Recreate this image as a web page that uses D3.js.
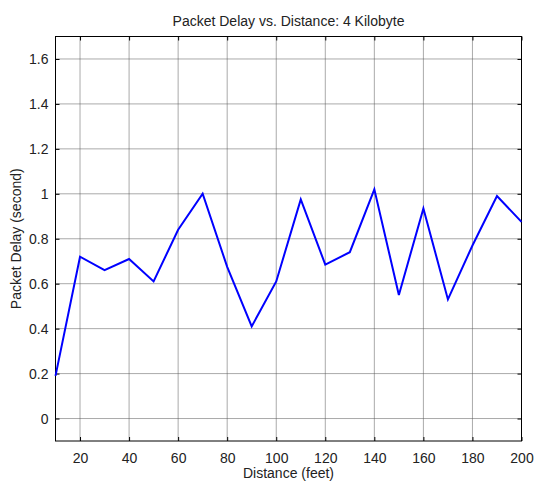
<!DOCTYPE html>
<html>
<head>
<meta charset="utf-8">
<script src="https://cdn.jsdelivr.net/npm/d3@7"></script>
<style>
  body { margin: 0; background: #fff; }
  text { font-family: 'Liberation Sans', Arial, sans-serif; fill: #222; }
</style>
</head>
<body>
<script>
// data
const distance = [10, 20, 30, 40, 50, 60, 70, 80, 90, 100, 110, 120, 130, 140, 150, 160, 170, 180, 190, 200]
const delay = [0.19, 0.72, 0.66, 0.71, 0.61, 0.84, 1.0, 0.675, 0.41, 0.61, 0.975, 0.685, 0.74, 1.02, 0.55, 0.935, 0.53, 0.77, 0.99, 0.875]
const xTicks = [20, 40, 60, 80, 100, 120, 140, 160, 180, 200]
const yTicks = [0, 0.2, 0.4, 0.6, 0.8, 1, 1.2, 1.4, 1.6]

const margin = { top: 36.5, right: 13.5, bottom: 42, left: 55.5 }
const width = 535 - margin.left - margin.right
const height = 483 - margin.top - margin.bottom
const tickLen = 4

const svg = d3.select('body')
  .append('svg')
  .attr('width', 535)
  .attr('height', 483)

const chart = svg.append('g')
  .attr('transform', `translate(${margin.left}, ${margin.top})`)

const x = d3.scaleLinear().domain([10, 200]).range([0, width])
const y = d3.scaleLinear().domain([-0.1, 1.7]).range([height, 0])

// grid (dotted, matlab style)
chart.append('g')
  .selectAll('line.vgrid')
  .data(xTicks)
  .enter()
    .append('line')
    .attr('x1', d => x(d)).attr('x2', d => x(d))
    .attr('y1', 0).attr('y2', height)
    .attr('stroke', '#555')
    .attr('stroke-dasharray', '1,1')

chart.append('g')
  .selectAll('line.hgrid')
  .data(yTicks)
  .enter()
    .append('line')
    .attr('x1', 0).attr('x2', width)
    .attr('y1', d => y(d)).attr('y2', d => y(d))
    .attr('stroke', '#555')
    .attr('stroke-dasharray', '1,1')

// axes with inward ticks
const fmt = d => d3.format('~g')(d)
chart.append('g')
  .attr('transform', `translate(0, ${height})`)
  .call(d3.axisBottom(x).tickValues(xTicks).tickSizeInner(-tickLen).tickSizeOuter(0).tickPadding(12).tickFormat(fmt))
chart.append('g')
  .call(d3.axisTop(x).tickValues(xTicks).tickSizeInner(-tickLen).tickSizeOuter(0).tickFormat(''))
chart.append('g')
  .call(d3.axisLeft(y).tickValues(yTicks).tickSizeInner(-tickLen).tickSizeOuter(0).tickPadding(7).tickFormat(fmt))
chart.append('g')
  .attr('transform', `translate(${width}, 0)`)
  .call(d3.axisRight(y).tickValues(yTicks).tickSizeInner(-tickLen).tickSizeOuter(0).tickFormat(''))

chart.selectAll('.domain').remove()
chart.selectAll('.tick line').attr('stroke', '#000')
chart.selectAll('.tick text')
  .attr('font-size', 14)
  .attr('font-family', "'Liberation Sans', Arial, sans-serif")
  .attr('fill', '#222')

chart.append('rect')
  .attr('width', width)
  .attr('height', height)
  .attr('fill', 'none')
  .attr('stroke', '#000')

// series
const line = d3.line()
  .x((d, i) => x(distance[i]))
  .y(d => y(d))

chart.append('path')
  .datum(delay)
  .attr('d', line)
  .attr('fill', 'none')
  .attr('stroke', '#0000ff')
  .attr('stroke-width', 2)

// labels
svg.append('text')
  .attr('x', margin.left + width / 2)
  .attr('y', 26)
  .attr('text-anchor', 'middle')
  .attr('font-size', 14)
  .text('Packet Delay vs. Distance: 4 Kilobyte')

svg.append('text')
  .attr('x', margin.left + width / 2)
  .attr('y', 478)
  .attr('text-anchor', 'middle')
  .attr('font-size', 14)
  .text('Distance (feet)')

svg.append('text')
  .attr('transform', `translate(21, ${margin.top + height / 2}) rotate(-90)`)
  .attr('text-anchor', 'middle')
  .attr('font-size', 14)
  .text('Packet Delay (second)')
</script>
</body>
</html>
